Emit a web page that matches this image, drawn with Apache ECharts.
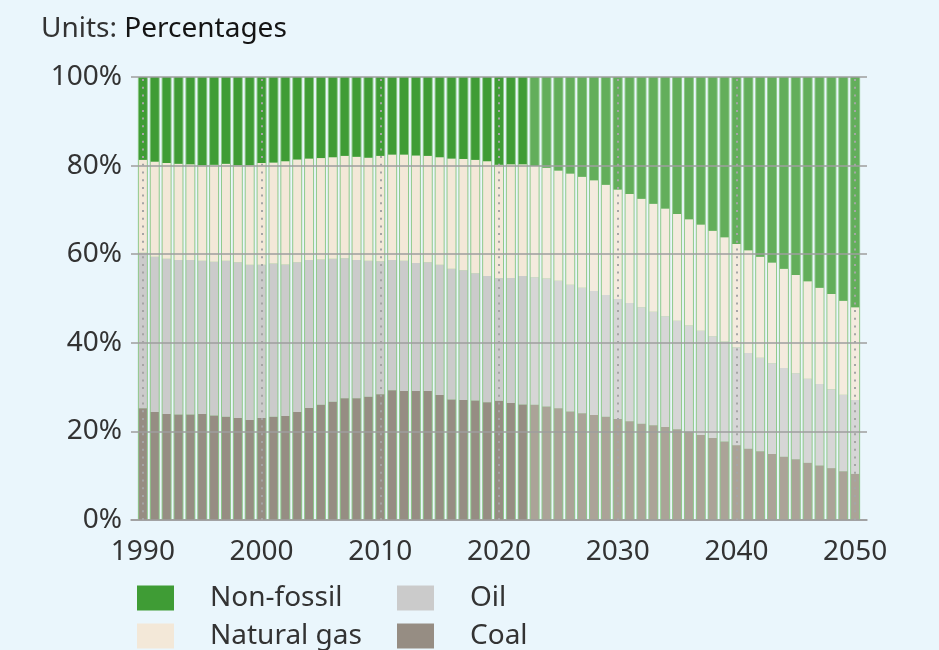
<!DOCTYPE html>
<html>
<head>
<meta charset="utf-8">
<script src="https://cdn.jsdelivr.net/npm/echarts@6/dist/echarts.min.js"></script>
<style>
html,body{margin:0;padding:0;background:#eaf6fc;}
#chart{width:939px;height:650px;}
</style>
</head>
<body>
<div id="chart"></div>
<script>
const years = [1990,1991,1992,1993,1994,1995,1996,1997,1998,1999,
2000,2001,2002,2003,2004,2005,2006,2007,2008,2009,
2010,2011,2012,2013,2014,2015,2016,2017,2018,2019,
2020,2021,2022,2023,2024,2025,2026,2027,2028,2029,
2030,2031,2032,2033,2034,2035,2036,2037,2038,2039,
2040,2041,2042,2043,2044,2045,2046,2047,2048,2049,2050];
const axisStartYear = 1989;
const axisEndYear = 2051;
const lastHistoricalYear = 2022;
const decadeTicks = ['1990','2000','2010','2020','2030','2040','2050'];

const coal = [25.2,24.4,23.9,23.8,23.8,23.9,23.6,23.3,23.0,22.6,
23.0,23.3,23.5,24.4,25.3,26.0,26.7,27.5,27.5,27.8,
28.4,29.3,29.1,29.1,29.1,28.2,27.2,27.1,27.0,26.6,
26.9,26.4,26.1,26.0,25.6,25.2,24.5,24.1,23.7,23.3,
22.8,22.3,21.7,21.4,21.0,20.5,19.9,19.2,18.5,17.7,
16.9,16.1,15.5,14.9,14.3,13.7,12.9,12.3,11.7,11.0,10.4];
const oil = [35.1,35.0,35.1,34.9,34.9,34.6,34.7,35.2,35.2,35.0,
34.6,34.6,34.2,33.8,33.4,32.8,32.3,31.6,31.2,30.7,
30.0,29.4,29.4,28.9,29.1,29.4,29.5,29.3,28.7,28.5,
27.7,28.2,29.0,28.8,28.9,28.8,28.6,28.3,28.0,27.5,
27.1,26.7,26.3,25.6,25.0,24.5,24.0,23.5,23.0,22.6,
22.1,21.6,21.1,20.5,20.0,19.4,19.0,18.4,17.8,17.3,16.7];
const naturalGas = [21.0,21.5,21.6,21.7,21.6,21.6,21.9,21.9,21.9,22.5,
23.0,22.8,23.3,23.2,22.9,22.9,22.9,23.1,23.3,23.3,
23.8,23.8,24.0,24.3,24.0,24.3,24.9,25.1,25.6,25.9,
25.6,25.7,25.2,25.1,25.0,24.9,25.1,25.1,25.0,24.9,
24.7,24.6,24.5,24.4,24.3,24.1,24.0,24.0,23.8,23.5,
23.3,23.2,22.8,22.7,22.4,22.2,22.0,21.7,21.5,21.2,20.9];
const nonFossil = [18.7,19.1,19.4,19.6,19.7,19.9,19.8,19.6,19.9,19.9,
19.4,19.3,19.0,18.6,18.4,18.3,18.1,17.8,18.0,18.2,
17.8,17.5,17.5,17.7,17.8,18.1,18.4,18.5,18.7,19.0,
19.8,19.7,19.7,20.1,20.5,21.1,21.8,22.5,23.3,24.3,
25.4,26.4,27.5,28.6,29.7,30.9,32.1,33.3,34.7,36.2,
37.7,39.1,40.6,41.9,43.3,44.7,46.1,47.6,49.0,50.5,52.0];
const totalShare = years.map(() => 100);

const colorsHist = {nf:'#3f9c35', gas:'#f3e8d8', oil:'#cbcbcb', coal:'#968d83'};
const colorsProj = {nf:'#63ae5b', gas:'#f4ebde', oil:'#d6d6d6', coal:'#aba398'};

// axis categories: one empty slot before and after the data years
const axisCats = [String(axisStartYear)].concat(years.map(String), [String(axisEndYear)]);

function pad(list){ return ['-'].concat(list, ['-']); }
function mk(arr, key){
  return pad(arr.map((v,i)=>({
    value: v,
    itemStyle:{color: years[i] > lastHistoricalYear ? colorsProj[key] : colorsHist[key]}
  })));
}

const FONT = '"Noto Sans", sans-serif';
const FS = 28;
const chart = echarts.init(document.getElementById('chart'), null, {renderer:'canvas'});

function stackSeries(name, arr, key){
  return {
    name:name, type:'bar', stack:'s', barWidth:8, xAxisIndex:0, yAxisIndex:0, z:3,
    itemStyle:{color:colorsHist[key]},
    data:mk(arr, key)
  };
}

chart.setOption({
  backgroundColor:'#eaf6fc',
  animation:false,
  textStyle:{fontFamily:FONT},
  title:{
    left:41, top:15, padding:0,
    text:'{a|Units: }{b|Percentages}',
    textStyle:{fontWeight:'normal', rich:{
      a:{fontSize:FS, color:'#333', fontFamily:FONT, fontWeight:'normal'},
      b:{fontSize:FS, color:'#141414', fontFamily:FONT, fontWeight:'normal'}
    }}
  },
  grid:{left:131, right:72, top:77, bottom:130},
  xAxis:[{
    type:'category', data:axisCats, boundaryGap:false,
    axisLine:{show:true, lineStyle:{color:'#9a9a9a', width:1.5}},
    axisTick:{show:false},
    splitLine:{show:false},
    axisLabel:{
      fontSize:FS, color:'#333', fontFamily:FONT, margin:18,
      interval:function(idx, val){ return decadeTicks.indexOf(val) >= 0; }
    }
  },{
    type:'category', data:axisCats, boundaryGap:false, show:false
  }],
  yAxis:{
    type:'value', min:0, max:100, interval:20, z:5,
    axisLine:{show:false}, axisTick:{show:false},
    splitLine:{show:true, lineStyle:{color:'#9e9e9e', width:1.5}},
    axisLabel:{fontSize:FS, color:'#333', fontFamily:FONT, margin:9, formatter:'{value}%'}
  },
  legend:[{
    orient:'vertical', left:137, top:584, padding:0,
    itemWidth:37, itemHeight:25, itemGap:10, icon:'rect',
    data:['Non-fossil','Natural gas'],
    textStyle:{fontSize:FS, color:'#333', fontFamily:FONT, lineHeight:25, padding:[0,0,0,31]}
  },{
    orient:'vertical', left:397, top:584, padding:0,
    itemWidth:37, itemHeight:25, itemGap:10, icon:'rect',
    data:['Oil','Coal'],
    textStyle:{fontSize:FS, color:'#333', fontFamily:FONT, lineHeight:25, padding:[0,0,0,31]}
  }],
  series:[
    {
      name:'bg', type:'bar', barWidth:10, xAxisIndex:1, yAxisIndex:0, z:2,
      data: pad(totalShare),
      itemStyle:{color:'#8fc98b'},
      silent:true,
      markLine:{
        silent:true, symbol:'none', z:6,
        label:{show:false},
        lineStyle:{color:'#a5a5a5', width:2, type:[2,5.7]},
        data: decadeTicks.map(y=>({xAxis:y}))
      }
    },
    stackSeries('Coal', coal, 'coal'),
    stackSeries('Oil', oil, 'oil'),
    stackSeries('Natural gas', naturalGas, 'gas'),
    stackSeries('Non-fossil', nonFossil, 'nf')
  ]
});
</script>
</body>
</html>
